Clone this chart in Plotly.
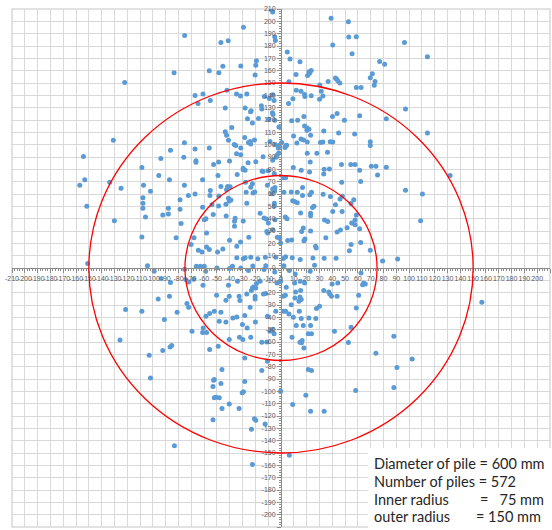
import plotly.graph_objects as go

# ---- data ----
x_vals = [
-75.2,-83.5,-56,-122,-67.1,-60.9,-64.8,-55.2,-130.9,-75.4,-86.3,-67.1,-56,-154.2,-93.8,-75.9,-66.4,-66.4,-52.6,-108.6,-153.2,-157.1,-133.7,-95.4,-87.1,-61.2,-124.9,-107.3,-75.4,-101.9,-67.1,-72.3,-55.2,-107.8,-107.8,-107.8,-78.8,-55.5,-151.6,-61.2,-53.9,-105.8,-87.9,-87.9,-92.3,-78.8,-130.1,-78,-58.6,-59.9,-52.9,-108.6,-81.9,-67.9,-58.1,-70.2,-64.5,-61.7,-58.1,-56,-150.9,
-7.5,-6.5,-29.3,39.1,52.6,-4.9,-4.4,-46.9,-41.2,40.4,52.9,4.9,7,14.8,-19.2,-19.7,-31.4,-45.4,-48.5,-20.2,11.7,20.7,22.3,23.6,21.8,55.5,44.3,42.5,43.3,45.9,36.8,6.2,30.3,-42.2,-34.7,-31.6,-26.7,-13,-9.1,-5.4,-6.5,11.9,15.6,18.4,18.7,23.6,9.3,5.9,30.1,32.7,31.4,-43.5,-28,-23.8,-23.3,-15.3,-15,-6.7,-6.2,-26.2,-22.3,-17.6,-9.6,-4.9,-1.6,8.3,13,17.9,18.4,20.5,21.8,20.2,23.1,40.2,43.8,49.5,45,33.4,-38.4,-43.5,-42.5,-41,-36.5,-35.3,-31.4,-28.3,-25.4,-24.1,-20.7,-23.6,-8.6,-4.7,-1.3,0.5,3.6,4.4,12.4,15.6,17.6,20.5,30.8,32.7,38.4,40.4,9.8,3.1,-34.7,-31.4,-48.7,-40.2,-14,-6.5,-3.9,-2.9,-1.8,-2.1,20.5,28,36.3,22.8,-25.7,-19.7,47.2,54.5,-29.5,-28,-29.5,-10.1,9.6,22.3,15.8,33.7,37.8,33.4,-49.2,-34.2,-14.8,-14,-5.2,1.6,3.6,-27.7,47.4,-41.7,-39.7,-42.5,-46.9,-22.3,-23.6,-10.6,-6.5,-4.9,-4.7,-7,-21.8,-20.5,-27.2,-48.5,2.3,8,12.7,16.8,16.8,23.8,22.5,32.9,38.6,46.1,47.9,-41,-39.1,-40.4,-43,-48.7,-26.7,-5.2,-5.2,9.1,12.7,10.6,25.7,24.6,42.5,47.7,54.7,40.4,-42.8,-35.8,-36.3,-36.3,-29.5,-16.3,-13.2,-11.4,-9.9,-4.7,-11.1,-10.4,-6.5,3.4,4.7,15.3,23.1,23.1,17.4,16.1,18.7,17.9,23.1,34,36.5,46.4,43.8,51.6,55.2,5.2,8.3,-2.9,-1.0,27,27.5,35,-25.1,-31.6,-40.2,-34.5,-45.4,-49.5,-34.5,-29.5,-28,-23.6,-18.1,-12.2,-4.1,-0.3,1.8,3.6,8.8,15,24.9,33.7,43,54.7,53.4,
58.8,96.4,114.3,77,80.9,71.3,69.7,73.4,72.8,58.8,62.5,97.2,61.4,82.2,57.5,114.3,69.7,69.7,57.8,70.5,74.1,82.2,61.4,75.4,132,62.2,97.2,110.4,56.8,58.8,57.8,57.8,61.4,109,62.2,69.7,79.3,91,
-104.2,-99,-93.6,-86.3,-75.2,-72.1,-74.4,-68.2,-66.1,-63,-59.9,-58.8,-60.9,-95.9,-87.1,-121.3,-108.6,-73.4,-72.1,-81.1,-58.6,-55.7,-91,-69.5,-60.7,-61.2,-58.1,-125.7,-85.3,-86.6,-92.3,-102.9,-55.7,-101.9,-52.6,-53.1,-52.1,-53.1,-83.2,
-50,-40.2,-37.9,-31.4,-25.4,-22,-13.2,-11.9,-4.9,2.3,6.5,22.8,26.2,11.1,-41,-34,-1.6,-3.1,-0.3,4.1,10.6,15,18.4,-21.5,-22.3,-19.7,-16.3,-19.2,-13.7,-11.9,1.6,3.4,11.4,15.3,-50.3,-40.4,-32.7,-32.1,-26.7,-23.1,-20.2,-20.2,-43,10.9,14.8,14,15.8,33.4,37.3,38.1,39.9,44.3,39.4,43.8,30.1,27.7,8,-24.1,-52.1,-46.9,-37.6,-34.5,-48.2,-43,-28.3,-30.1,-26.4,-20,-10.6,-4.1,1.8,3.6,6.2,9.6,14.3,15.8,11.9,17.4,23.1,21.8,27.2,-6.7,-8.6,-5.4,-23.6,-32.4,-29.8,-40.4,-49,-15,-11.1,-10.6,-15,8.6,14.8,16.5,16,21.3,23.8,41.7,54.7,52.6,17.9,21.3,23.8,-28.3,-46.1,-52.1,-46.9,-28.3,-29.3,-30.3,-0.3,-48.2,-50.8,-46.1,-40.4,-32.7,9.1,19.4,23.1,33.7,-20.7,-19.7,-12.4,-23.1,-22.3,6.5,
62.5,64.5,63.7,65.8,60.6,58.8,156.8,88.1,74.1,102.4,90.5,88.1,58.3]

y_vals = [
188.6,158.3,159.9,150.5,139.8,141.1,133.4,135.9,103.5,101.6,95.4,96.5,97.3,90.5,88.7,89.7,87,85.7,84,81.5,71.6,67,69.5,74.9,71.6,71.6,64.6,67,67,62.2,60,58.7,62.9,57,52.5,48.4,55.4,58.7,50,49.2,51.3,41.4,48.4,43.8,43,47.6,38.4,36,40,39.2,43.3,25.2,24.6,24.6,28.4,19,14.4,13,17,14.9,3.6,
209.4,207.5,195.3,202.4,199.7,187.5,184.5,182.9,184.2,180.8,187.2,175.1,169.4,167.2,168,164.3,163.8,163.5,158.3,156.4,156.9,156.1,158,160.2,159.2,173.7,151.8,154,153.2,150,151.3,151,148.3,144.2,141,139.4,141,139.1,137.5,135.9,140.5,144.2,143.4,140.7,139.1,139.7,137.2,133.4,136.9,139.4,143.4,129.7,129.7,126.7,127.5,131.6,128.9,125.9,124.5,121,117.5,121.3,120.7,119.7,114.3,119.4,119.7,122.9,115.1,113.5,112.4,111.6,107.6,122.9,125.3,119.7,109.5,111.1,114,110.5,107.6,103.5,100.2,99.4,97.3,105.8,101.8,102.6,103.7,100.5,102.6,100.2,99.6,101.8,99.1,99.6,101.3,104.5,103.7,102.1,101.8,102.1,102.4,102.1,107,97.8,92.6,91.8,86,86.7,90.2,87.3,89.7,91.8,93.2,97.2,93,93,93.8,86,85.4,86.2,84,84,80.8,79.2,79.7,78.9,81.5,77.8,79.2,80,80.2,76.2,74.9,75.9,78.6,78.3,76.4,73.1,73.1,69.5,69.5,66.1,65.9,63.5,66.1,68.4,65.5,67,64,62.4,65.3,60.3,60.8,61.6,61.4,58.4,61.4,61.6,61.4,65.3,58.7,61.4,59.3,59.8,57.9,56,58.1,56.5,55.2,54.4,51.6,50.2,52.5,52.5,50.2,54.6,52.9,54,50,49,51.2,45.8,52.3,45.8,42.1,40.3,37.9,33.8,38.1,44.3,40.6,39.7,36.5,39.2,29.5,28.4,31.1,41.4,40,44.6,44.3,42.4,32.5,29.5,23.6,22,30,38.9,37.8,30.8,29.2,32.7,36.5,22.2,22.7,24.9,24.1,17.6,16.2,24.6,24.9,21.1,22.5,17.6,15.5,13,8.4,7.6,8.4,8.7,7.6,8.7,8.7,20.3,7.8,9.2,8.4,6.8,8.2,7.9,7.9,19,14,
187.5,182.9,171.3,167.5,165.3,157.5,154.3,151.3,148.1,146.4,146.4,128.9,123.5,121,108.6,109.5,102.4,99.4,84,82.4,82.4,81.6,79.2,75.5,74.9,70.1,63,60,55.4,43,39,35.1,31.9,38.4,20.6,14.4,5.7,7.3,
1.9,-2.6,-8.6,-11.8,-1,-11.3,-9.4,-9.1,1.4,1.4,1.4,-2.6,-14,-25.1,-22.9,-33.7,-35.1,-28.8,-31.8,-35.9,-39.1,-36.9,-41.8,-51.3,-48.6,-52.3,-52.3,-58.3,-62.9,-64,-66.9,-70.7,-66.1,-89.1,-91,-96.1,-105.3,-123.1,-144.2,
0,-0.5,1.4,0,-2.1,1.7,-1.3,1.9,-3.2,1.9,-2.1,-2.6,2.2,-4.9,-14,-10.8,-11.3,-12.1,-10.8,-15.6,-12.1,-10.8,-12.1,-15.4,-16.2,-16.2,-10.8,-12.6,-21,-20.7,-22.9,-22.1,-19.4,-18.3,-22.1,-22.9,-22.9,-26.4,-21,-18.3,-22.9,-25.1,-26.2,-24.3,-23.5,-27,-25.6,-18.3,-19.4,-21,-12.9,-12.1,-22.9,-22.9,-31,-32.9,-29.7,-31.8,-35.1,-35.9,-40.5,-39.7,-43.2,-43.7,-38.6,-45.9,-48.6,-43.7,-39.1,-35.1,-35.1,-35.1,-37.2,-39.9,-35.1,-41,-46.7,-46.7,-46.7,-40.5,-41,-49.9,-51.3,-53.4,-56.1,-56.1,-58,-58,-63.4,-60.2,-59.9,-75.6,-83.2,-56.1,-60.2,-58.8,-60.7,-53.4,-53.4,-51.3,-48,-60.4,-64.8,-82.3,-83.2,-72.9,-82.3,-90.4,-93.7,-92.1,-100.4,-101.2,-99.9,-105.3,-104.8,-113.9,-110.2,-113.9,-110.7,-103.1,-116.1,-116.1,-122.3,-123.4,-126.4,-130.7,-159.3,-151.8,
-4,-12.1,-13.5,-12.9,-22.1,-32.4,-27.8,-55.3,-69.1,-73.7,-80.7,-96.9,-99.4]

radii = [75, 150]
axis_ticks = list(range(-210, 211, 10))
info_labels = ["Diameter of pile = 600 mm", "Number of piles = 572", "Inner radius", "outer radius"]
info_values = ["", "", "=   75 mm", "= 150 mm"]

W, H = 552, 530
ML, MR, MT, MB = 12, 2, 9, 3


def px2paper_x(px):
    return (px - ML) / (W - ML - MR)


def px2paper_y(py):
    return (H - MB - py) / (H - MT - MB)


fig = go.Figure()
fig.add_trace(go.Scatter(
    x=x_vals, y=y_vals, mode="markers",
    marker=dict(color="#5b9bd5", size=5, line=dict(width=0)),
    hoverinfo="x+y"))

for r in radii:
    fig.add_shape(type="circle", xref="x", yref="y", x0=-r, x1=r, y0=-r, y1=r,
                  line=dict(color="#ff0000", width=1.3), layer="above")

axis_common = dict(
    range=[-210, 210], tickmode="array", tickvals=axis_ticks,
    ticktext=[str(v) for v in axis_ticks],
    anchor="free", position=0.5, showline=True, linecolor="#8c8c8c", linewidth=1,
    ticks="outside", ticklen=4, tickcolor="#8c8c8c", tickwidth=1,
    tickfont=dict(family="Liberation Sans", size=7, color="#595959"),
    tickangle=0, showgrid=True, gridcolor="#d9d9d9", gridwidth=1,
    zeroline=False, automargin=False, fixedrange=True,
    minor=dict(dtick=2, ticks="outside", ticklen=2, tickcolor="#8c8c8c", showgrid=False),
)
fig.update_xaxes(**axis_common)
fig.update_yaxes(**axis_common)

# plot-area border
fig.add_shape(type="rect", xref="paper", yref="paper", x0=0, x1=1, y0=0, y1=1,
              line=dict(color="#d9d9d9", width=1.5), layer="below")

# info box
fig.add_shape(type="rect", xref="paper", yref="paper",
              x0=px2paper_x(368), x1=px2paper_x(560), y0=px2paper_y(448), y1=px2paper_y(540),
              fillcolor="white", line=dict(width=0), layer="above")

line_y = [463, 481, 499, 516]
value_x = [None, None, 478, 474]
for lab, val, py, vx in zip(info_labels, info_values, line_y, value_x):
    fig.add_annotation(text=lab, xref="paper", yref="paper", x=px2paper_x(372), y=px2paper_y(py),
                       xanchor="left", yanchor="middle", showarrow=False,
                       font=dict(family="Lato", size=14.5, color="#262626"))
    if val:
        fig.add_annotation(text=val, xref="paper", yref="paper", x=px2paper_x(vx), y=px2paper_y(py),
                           xanchor="left", yanchor="middle", showarrow=False,
                           font=dict(family="Lato", size=14.5, color="#262626"))

fig.update_layout(
    template="none", width=W, height=H,
    margin=dict(l=ML, r=MR, t=MT, b=MB, pad=0),
    plot_bgcolor="white", paper_bgcolor="white", showlegend=False,
)

fig.write_html("out.html", config={"displayModeBar": False},
               post_script="document.body.style.margin='0';document.body.style.overflow='hidden';")
